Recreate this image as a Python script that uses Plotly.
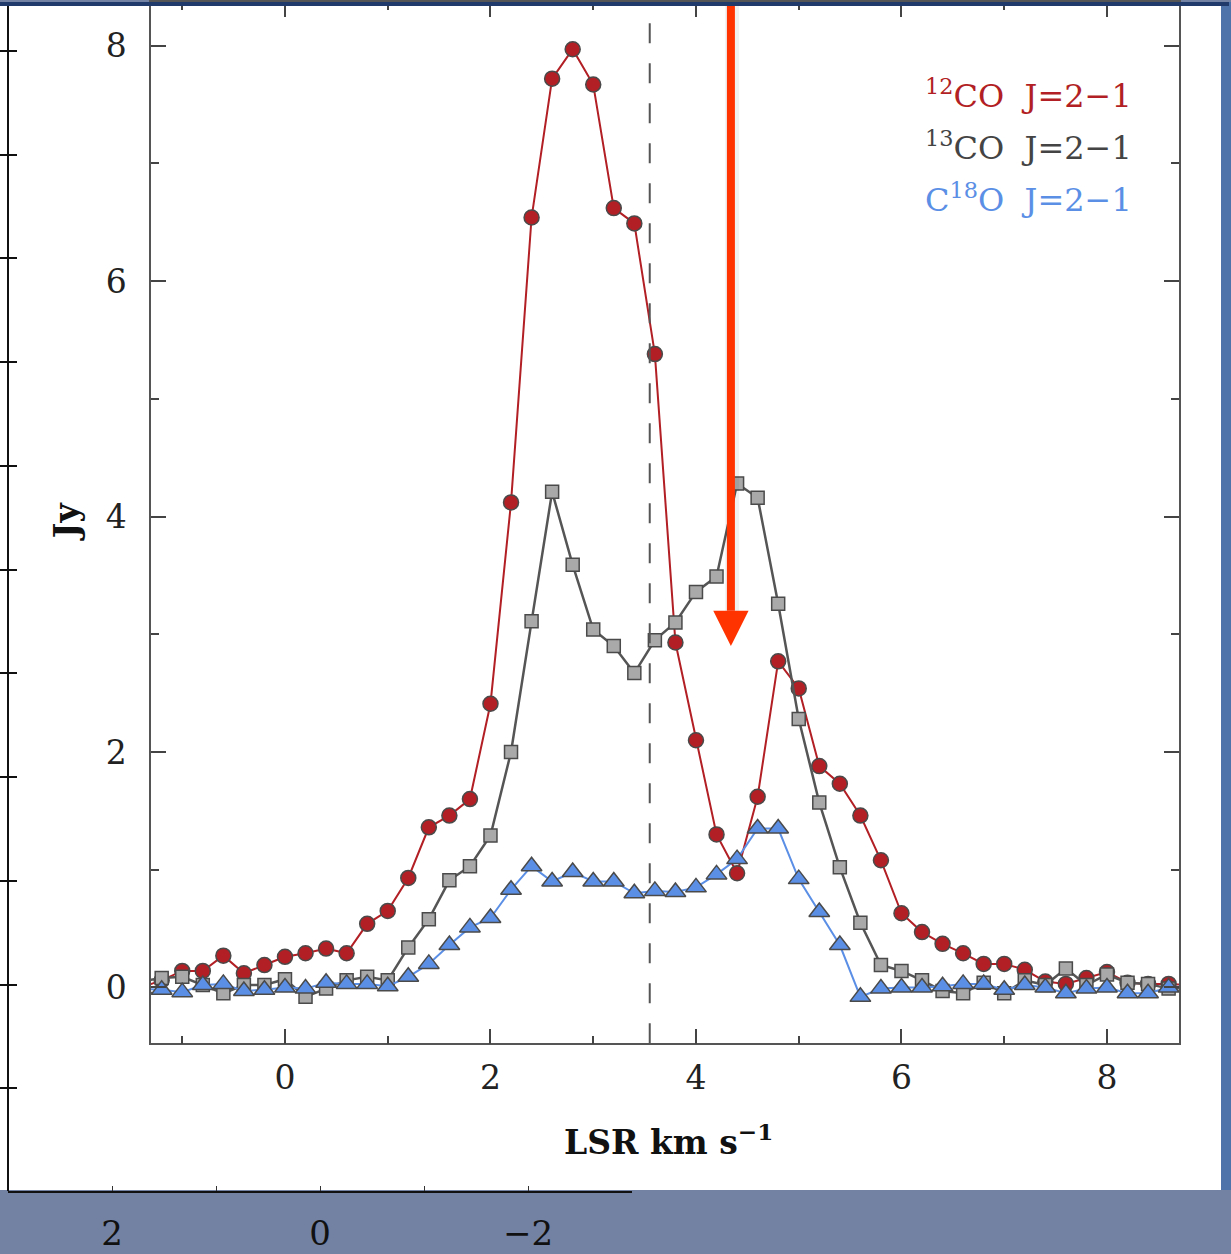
import plotly.graph_objects as go

# Channel velocities (km/s, LSR) and line flux densities (Jy)
velocity = [-1.4, -1.2, -1.0, -0.8, -0.6, -0.4, -0.2, 0.0, 0.2, 0.4, 0.6, 0.8, 1.0,
            1.2, 1.4, 1.6, 1.8, 2.0, 2.2, 2.4, 2.6, 2.8, 3.0, 3.2, 3.4, 3.6, 3.8,
            4.0, 4.2, 4.4, 4.6, 4.8, 5.0, 5.2, 5.4, 5.6, 5.8, 6.0, 6.2, 6.4, 6.6,
            6.8, 7.0, 7.2, 7.4, 7.6, 7.8, 8.0, 8.2, 8.4, 8.6, 8.8]

co12 = [0.00, 0.06, 0.14, 0.14, 0.27, 0.12, 0.19, 0.26, 0.29, 0.33, 0.29, 0.54, 0.65,
        0.93, 1.36, 1.46, 1.60, 2.41, 4.12, 6.54, 7.72, 7.97, 7.67, 6.62, 6.49, 5.38, 2.93,
        2.10, 1.30, 0.97, 1.62, 2.77, 2.54, 1.88, 1.73, 1.46, 1.08, 0.63, 0.47, 0.37, 0.29,
        0.20, 0.20, 0.15, 0.05, 0.03, 0.08, 0.13, 0.04, 0.03, 0.03, 0.02]

co13 = [0.05, 0.08, 0.09, 0.02, -0.05, 0.02, 0.02, 0.07, -0.08, -0.01, 0.06, 0.09, 0.06,
        0.34, 0.58, 0.91, 1.03, 1.29, 2.00, 3.11, 4.21, 3.59, 3.04, 2.90, 2.67, 2.95, 3.10,
        3.36, 3.49, 4.28, 4.16, 3.26, 2.28, 1.57, 1.02, 0.55, 0.19, 0.14, 0.06, -0.03, -0.05,
        0.04, -0.05, 0.06, 0.02, 0.16, 0.02, 0.11, 0.04, 0.03, -0.01, 0.00]

c18o = [-0.01, -0.02, -0.04, 0.02, 0.03, -0.03, -0.02, 0.00, -0.01, 0.04, 0.03, 0.03, 0.01,
        0.09, 0.20, 0.36, 0.51, 0.59, 0.83, 1.03, 0.90, 0.98, 0.90, 0.90, 0.80, 0.82, 0.81,
        0.85, 0.96, 1.09, 1.35, 1.35, 0.92, 0.64, 0.36, -0.08, -0.01, 0.00, 0.00, 0.01, 0.03,
        0.03, -0.02, 0.02, 0.00, -0.05, -0.01, 0.00, -0.05, -0.05, 0.00, 0.01]

line_labels = ["<sup>12</sup>CO  J=2−1", "<sup>13</sup>CO  J=2−1", "C<sup>18</sup>O  J=2−1"]
x_ticks = [0, 2, 4, 6, 8]
y_ticks = [0, 2, 4, 6, 8]
v_systemic = 3.55          # dashed reference velocity
v_marker = 4.34            # velocity flagged by the arrow
arrow_tip = 2.9            # Jy level of the arrow tip

# Axis of the underlying offset panel (partly hidden)
offset_ticks = [2, 0, -2]
offset_labels = ["2", "0", "−2"]

W, H = 1231, 1254
RED, GREY, BLUE = "#b21f24", "#a9a9a9", "#5b8fe6"
EDGE = "#4a4a4a"
SERIF = "DejaVu Serif"


def fx(px):
    return px / W


def fy(py):
    return 1 - py / H


fig = go.Figure()

# Spectra: 12CO (circles), 13CO (squares), C18O (triangles)
fig.add_trace(go.Scatter(
    x=velocity, y=co12, mode="lines+markers", name=line_labels[0],
    line=dict(color=RED, width=2),
    marker=dict(symbol="circle", size=15, color=RED, line=dict(color=EDGE, width=1.5)),
    xaxis="x", yaxis="y", showlegend=False))
fig.add_trace(go.Scatter(
    x=velocity, y=co13, mode="lines+markers", name=line_labels[1],
    line=dict(color="#555555", width=2.5),
    marker=dict(symbol="square", size=13, color=GREY, line=dict(color=EDGE, width=1.5)),
    xaxis="x", yaxis="y", showlegend=False))
fig.add_trace(go.Scatter(
    x=velocity, y=c18o, mode="lines+markers", name=line_labels[2],
    line=dict(color=BLUE, width=2),
    marker=dict(symbol="triangle-up", size=18, color=BLUE, line=dict(color=EDGE, width=1.5)),
    xaxis="x", yaxis="y", showlegend=False))

# Empty traces so the offset panel axes are drawn
fig.add_trace(go.Scatter(x=[None], y=[None], xaxis="x2", yaxis="y2",
                         showlegend=False, hoverinfo="skip"))
fig.add_trace(go.Scatter(x=[None], y=[None], xaxis="x2", yaxis="y3",
                         showlegend=False, hoverinfo="skip"))

tick_font = dict(family=SERIF, size=33, color="#222222")

shapes = [
    # white panel, side strip
    dict(type="rect", xref="paper", yref="paper", x0=fx(0), x1=fx(1221), y0=fy(1190), y1=fy(0),
         fillcolor="white", line=dict(width=0), layer="below"),
    dict(type="rect", xref="paper", yref="paper", x0=fx(1221), x1=fx(1231), y0=fy(1190), y1=fy(0),
         fillcolor="#4d73aa", line=dict(width=0), layer="below"),
    # left axis line of the offset panel
    dict(type="line", xref="paper", yref="paper", x0=fx(8), x1=fx(8), y0=fy(1191), y1=fy(0),
         line=dict(color="#111111", width=2)),
    # systemic velocity
    dict(type="line", xref="x", yref="y domain", x0=v_systemic, x1=v_systemic, y0=0, y1=1,
         line=dict(color="#555555", width=2, dash="20px,20px")),
    # arrow shadow, shaft and head
    dict(type="line", xref="x", yref="y", x0=v_marker + 0.012, x1=v_marker + 0.012, y0=8.6, y1=3.18,
         line=dict(color="rgba(0,0,0,0.06)", width=14)),
    dict(type="line", xref="x", yref="y", x0=v_marker, x1=v_marker, y0=8.6, y1=3.2,
         line=dict(color="#ff3300", width=8)),
    dict(type="path", xref="x", yref="y",
         path=f"M {v_marker - 0.172},{arrow_tip + 0.3} L {v_marker + 0.172},{arrow_tip + 0.3} "
              f"L {v_marker},{arrow_tip} Z",
         fillcolor="#ff3300", line=dict(width=0)),
    # top border band
    dict(type="rect", xref="paper", yref="paper", x0=fx(0), x1=fx(1229), y0=fy(4), y1=fy(0),
         fillcolor="#1f3a6b", line=dict(width=0), layer="above"),
]

annotations = [
    dict(text=line_labels[0], xref="paper", yref="paper", x=fx(923), y=fy(92),
         xanchor="left", yanchor="middle", showarrow=False,
         font=dict(family=SERIF, size=32, color=RED)),
    dict(text=line_labels[1], xref="paper", yref="paper", x=fx(923), y=fy(144),
         xanchor="left", yanchor="middle", showarrow=False,
         font=dict(family=SERIF, size=32, color="#444444")),
    dict(text=line_labels[2], xref="paper", yref="paper", x=fx(923), y=fy(196),
         xanchor="left", yanchor="middle", showarrow=False,
         font=dict(family=SERIF, size=32, color="#5b8fe6")),
    dict(text="<b>LSR km s<sup>−1</sup></b>", xref="paper", yref="paper", x=fx(668), y=fy(1140),
         xanchor="center", yanchor="middle", showarrow=False,
         font=dict(family=SERIF, size=33, color="#111111")),
    dict(text="<b>Jy</b>", xref="paper", yref="paper", x=fx(66), y=fy(521), textangle=-90,
         xanchor="center", yanchor="middle", showarrow=False,
         font=dict(family=SERIF, size=33, color="#111111")),
]

fig.update_layout(
    width=W, height=H,
    margin=dict(l=0, r=0, t=0, b=0),
    paper_bgcolor="#7382a3",
    plot_bgcolor="rgba(0,0,0,0)",
    shapes=shapes,
    annotations=annotations,
    xaxis=dict(
        domain=[fx(151), fx(1179)], range=[-1.304, 8.701], anchor="y",
        showline=True, linecolor="#555555", linewidth=1.5, mirror="ticks",
        ticks="inside", ticklen=15, tickwidth=1.5, tickcolor="#444444",
        tickvals=x_ticks, ticktext=[str(t) for t in x_ticks],
        minor=dict(dtick=1, tick0=0, ticks="inside", ticklen=8, tickwidth=1.5, tickcolor="#444444"),
        tickfont=tick_font, ticklabelstandoff=4,
        showgrid=False, zeroline=False,
    ),
    yaxis=dict(
        domain=[fy(1043), 1], range=[-0.475, 8.371], anchor="x",
        showline=True, linecolor="#555555", linewidth=1.5, mirror="ticks",
        ticks="inside", ticklen=15, tickwidth=1.5, tickcolor="#444444",
        tickvals=y_ticks, ticktext=[str(t) for t in y_ticks],
        minor=dict(dtick=1, tick0=0, ticks="inside", ticklen=8, tickwidth=1.5, tickcolor="#444444"),
        tickfont=tick_font, ticklabelstandoff=16,
        showgrid=False, zeroline=False,
    ),
    xaxis2=dict(
        domain=[fx(8), fx(632)], range=[3, -3], anchor="y2",
        showline=True, linecolor="#111111", linewidth=2,
        ticks="inside", ticklen=5, tickwidth=1.2, tickcolor="#333333",
        tickvals=offset_ticks, ticktext=offset_labels,
        minor=dict(dtick=1, tick0=0, ticks="inside", ticklen=5, tickwidth=1.2, tickcolor="#333333"),
        tickfont=dict(family=SERIF, size=34, color="#111111"), ticklabelstandoff=11,
        showgrid=False, zeroline=False,
    ),
    yaxis2=dict(
        domain=[fy(1191), 1], range=[0.01, 11.47], anchor="x2",
        showline=False, ticks="inside", ticklen=9, tickwidth=1.5, tickcolor="#111111",
        dtick=1, tick0=1, showticklabels=False, showgrid=False, zeroline=False,
    ),
    yaxis3=dict(
        domain=[fy(1191), 1], range=[0.01, 11.47], anchor="x2", overlaying="y2", side="left",
        showline=False, ticks="outside", ticklen=8, tickwidth=1.5, tickcolor="#111111",
        dtick=1, tick0=1, showticklabels=False, showgrid=False, zeroline=False,
    ),
)

fig.write_html("out.html")
